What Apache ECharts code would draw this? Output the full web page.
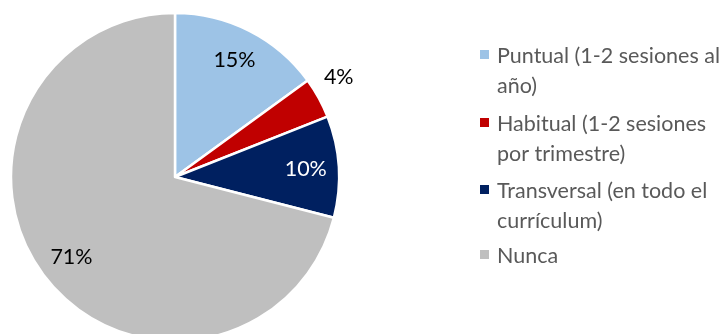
<!DOCTYPE html>
<html>
<head>
<meta charset="utf-8">
<script src="https://cdn.jsdelivr.net/npm/echarts@6/dist/echarts.min.js"></script>
<style>
html,body{margin:0;padding:0;background:#fff;}
#chart{width:728px;height:334px;}
</style>
</head>
<body>
<div id="chart"></div>
<script>
const categories = ['Puntual (1-2 sesiones al año)', 'Habitual (1-2 sesiones por trimestre)', 'Transversal (en todo el currículum)', 'Nunca'];
const legendLines = [['Puntual (1-2 sesiones al', 'año)'], ['Habitual (1-2 sesiones', 'por trimestre)'], ['Transversal (en todo el', 'currículum)'], ['Nunca']];
const values = [15, 4, 10, 71];
const colors = ['#9DC3E6', '#C00000', '#002060', '#BFBFBF'];
const labelColors = ['#000000', '#000000', '#FFFFFF', '#000000'];

const FONT = 'Lato';
const chart = echarts.init(document.getElementById('chart'), null, {renderer: 'canvas'});

const center = [175, 177];
const R = 164;

const mainData = categories.map((c, i) => ({name: c, value: values[i], itemStyle: {color: colors[i]}}));
const insideData = categories.map((c, i) => ({
  name: c, value: values[i],
  label: {show: i !== 1, color: labelColors[i]}
}));
const outsideData = categories.map((c, i) => ({
  name: c, value: values[i],
  label: {show: i === 1, color: labelColors[i]}
}));

const legendTops = [50, 118, 185, 250];
const graphics = [];
legendLines.forEach((lines, i) => {
  graphics.push({type: 'rect', left: 480, top: legendTops[i], shape: {width: 9, height: 9}, style: {fill: colors[i]}, silent: true});
  graphics.push({type: 'text', left: 497, top: legendTops[i] - 9, style: {text: lines.join('\n'), fill: '#595959', font: '21.5px ' + FONT, lineHeight: 30}, silent: true});
});

const option = {
  animation: false,
  backgroundColor: '#ffffff',
  series: [
    {
      type: 'pie', center: center, radius: [0, R], startAngle: 90, clockwise: true,
      label: {show: false}, labelLine: {show: false}, silent: true,
      itemStyle: {borderColor: '#ffffff', borderWidth: 2.5},
      data: mainData
    },
    {
      type: 'pie', center: center, radius: [92, R], startAngle: 90, clockwise: true, silent: true,
      itemStyle: {color: 'rgba(0,0,0,0)'},
      label: {position: 'inside', fontFamily: FONT, fontSize: 21.5, formatter: '{c}%'},
      labelLine: {show: false},
      data: insideData
    },
    {
      type: 'pie', center: center, radius: [176, 210], startAngle: 90, clockwise: true, silent: true,
      itemStyle: {color: 'rgba(0,0,0,0)'},
      label: {position: 'inside', fontFamily: FONT, fontSize: 21.5, formatter: '{c}%'},
      labelLine: {show: false},
      labelLayout: {dx: -8, dy: -6},
      data: outsideData
    }
  ],
  graphic: graphics
};
chart.setOption(option);
</script>
</body>
</html>
